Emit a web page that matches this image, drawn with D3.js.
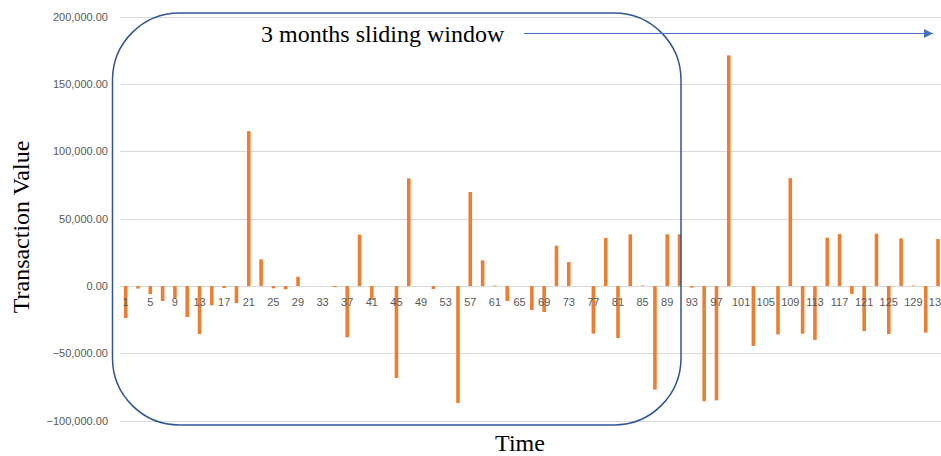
<!DOCTYPE html>
<html>
<head>
<meta charset="utf-8">
<script src="https://cdn.jsdelivr.net/npm/d3@7"></script>
<style>
  html, body { margin: 0; padding: 0; background: #fff; overflow: hidden; }
  svg { display: block; }
  .tick text { font-family: "Liberation Sans", Arial, sans-serif; font-size: 11px; fill: #595959; }
  .title { font-family: "Liberation Serif", "Times New Roman", serif; fill: #000; }
</style>
</head>
<body>
<svg id="chart" width="941" height="456"></svg>
<script>
// Time step of each transaction (1 … 133)
const periods = d3.range(1, 134);

// Transaction value per time step
const transactionValues = [
  -23800, 0, -1900, 0, -6000, 0, -11100, 0, -9000, 0,
  -23000, 0, -35600, 0, -14300, 0, -1500, 0, -12600, 0,
  115000, 0, 19800, 0, -1700, 0, -2400, 0, 6900, 0,
  0, 0, 0, 0, -800, 0, -38100, 0, 38200, 0,
  -10300, 0, 0, 0, -68300, 0, 80000, 0, 0, 0,
  -2200, 0, 0, 0, -86900, 0, 69800, 0, 19100, 0,
  400, 0, -11100, 0, 0, 0, -17800, 0, -19300, 0,
  30000, 0, 17800, 0, 0, 0, -35400, 0, 35700, 0,
  -38600, 0, 38400, 0, 400, 0, -76900, 0, 38400, 0,
  38400, 0, -1200, 0, -85600, 0, -84900, 0, 171300, 0,
  0, 0, -44500, 0, 0, 0, -35900, 0, 80100, 0,
  -35400, 0, -40100, 0, 35900, 0, 38600, 0, -5900, 0,
  -33400, 0, 38900, 0, -35600, 0, 35400, 0, 400, 0,
  -34600, 0, 34900
];

// Value axis ticks and shown category labels
const yTicks = [-100000, -50000, 0, 50000, 100000, 150000, 200000];
const xLabels = d3.range(1, 134, 4);

const svg = d3.select("#chart");

const plotLeft = 120, plotRight = 941;
const x = d3.scaleBand()
  .domain(periods)
  .range([122.6, 122.6 + periods.length * 6.154])
  .paddingInner(0.42)
  .paddingOuter(0.21);

const y = d3.scaleLinear()
  .domain([-100000, 200000])
  .range([420.7, 16.7]);

// horizontal gridlines
svg.append("g")
  .selectAll("line")
  .data(yTicks)
  .join("line")
  .attr("x1", plotLeft)
  .attr("x2", plotRight)
  .attr("y1", d => Math.round(y(d)) + 0.5)
  .attr("y2", d => Math.round(y(d)) + 0.5)
  .attr("stroke", "#d9d9d9")
  .attr("stroke-width", 1);

// y axis labels
const yAxis = svg.append("g")
  .attr("transform", `translate(${plotLeft},0)`)
  .call(d3.axisLeft(y).tickValues(yTicks).tickFormat(d3.format(",.2f")).tickSize(0).tickPadding(12));
yAxis.select(".domain").remove();

// bars
const data = periods.map((p, i) => ({ p, v: transactionValues[i] }));
svg.append("g")
  .selectAll("rect")
  .data(data.filter(d => d.v !== 0))
  .join("rect")
  .attr("x", d => x(d.p))
  .attr("width", x.bandwidth())
  .attr("y", d => y(Math.max(0, d.v)))
  .attr("height", d => Math.abs(y(d.v) - y(0)))
  .attr("fill", "#ed7d31");

// category labels along the zero line
const xAxis = svg.append("g")
  .attr("transform", `translate(0,${y(0)})`)
  .call(d3.axisBottom(x).tickValues(xLabels).tickSize(0).tickPadding(12));
xAxis.select(".domain").remove();

// axis titles
svg.append("text")
  .attr("class", "title")
  .attr("transform", "translate(29,227) rotate(-90)")
  .attr("text-anchor", "middle")
  .attr("font-size", 24)
  .text("Transaction Value");

svg.append("text")
  .attr("class", "title")
  .attr("x", 520)
  .attr("y", 451)
  .attr("text-anchor", "middle")
  .attr("font-size", 24)
  .text("Time");

// sliding window outline
svg.append("rect")
  .attr("x", 112.5)
  .attr("y", 13)
  .attr("width", 568.5)
  .attr("height", 412)
  .attr("rx", 67)
  .attr("ry", 67)
  .attr("fill", "none")
  .attr("stroke", "#2f5597")
  .attr("stroke-width", 1.5);

// window label and direction arrow
svg.append("text")
  .attr("class", "title")
  .attr("x", 261)
  .attr("y", 42)
  .attr("font-size", 24)
  .text("3 months sliding window");

svg.append("defs").append("marker")
  .attr("id", "arrowHead")
  .attr("viewBox", "0 0 10 10")
  .attr("refX", 10)
  .attr("refY", 5)
  .attr("markerUnits", "userSpaceOnUse")
  .attr("markerWidth", 9)
  .attr("markerHeight", 9)
  .attr("orient", "auto")
  .append("path")
  .attr("d", "M0,0 L10,5 L0,10 Z")
  .attr("fill", "#4472c4");

svg.append("line")
  .attr("x1", 524)
  .attr("x2", 933)
  .attr("y1", 33.5)
  .attr("y2", 33.5)
  .attr("stroke", "#4472c4")
  .attr("stroke-width", 1)
  .attr("marker-end", "url(#arrowHead)");
</script>
</body>
</html>
